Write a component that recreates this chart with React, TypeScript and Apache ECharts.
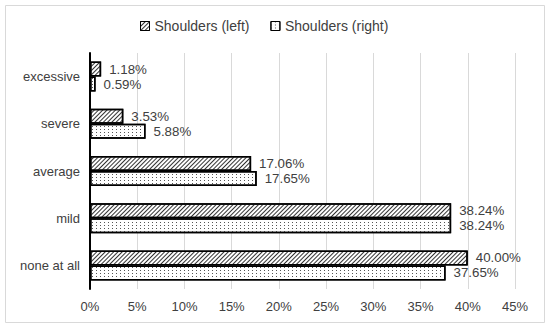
import React, { useEffect, useRef } from "react";
import * as echarts from "echarts";

const categories = ["none at all", "mild", "average", "severe", "excessive"];
const leftValues = [40.0, 38.24, 17.06, 3.53, 1.18];
const rightValues = [37.65, 38.24, 17.65, 5.88, 0.59];
const seriesNames = ["Shoulders (left)", "Shoulders (right)"];

const FONT = "Liberation Sans, Arial, sans-serif";
const TXT = "#404040";
const FS = 13;

const hatchDecal = {
  symbol: "rect",
  symbolSize: 1,
  dashArrayX: [1, 0],
  dashArrayY: [1, 1.2],
  rotation: -Math.PI / 4,
  color: "#333",
};
const dotDecal = {
  symbol: "rect",
  symbolSize: 1,
  dashArrayX: [1, 3],
  dashArrayY: [1, 2],
  rotation: 0,
  color: "#555",
};

export default function App() {
  const ref = useRef<HTMLDivElement>(null);
  useEffect(() => {
    if (!ref.current) return;
    const chart = echarts.init(ref.current, null, { renderer: "svg" });
    const label = {
      show: true,
      position: "right",
      distance: 8,
      color: TXT,
      fontSize: 13.3,
      fontFamily: FONT,
      formatter: (p: any) => Number(p.value).toFixed(2) + "%",
    };
    chart.setOption({
      animation: false,
      textStyle: { fontFamily: FONT },
      graphic: [
        {
          type: "rect",
          shape: { x: 5.5, y: 5.5, width: 539, height: 317 },
          style: { fill: "none", stroke: "#d9d9d9", lineWidth: 1 },
          silent: true,
        },
      ],
      legend: {
        data: seriesNames,
        icon: "rect",
        left: 135,
        top: 14,
        itemWidth: 9,
        itemHeight: 9,
        itemGap: 21,
        itemStyle: { borderWidth: 1 },
        textStyle: { color: TXT, fontSize: 14, fontFamily: FONT },
      },
      grid: { left: 90, right: 35, top: 53, bottom: 39 },
      xAxis: {
        type: "value",
        min: 0,
        max: 45,
        interval: 5,
        axisLine: { show: false },
        axisTick: { show: false },
        axisLabel: { formatter: "{value}%", color: TXT, fontSize: FS, fontFamily: FONT, margin: 11 },
        splitLine: { show: true, lineStyle: { color: "#d9d9d9", width: 1 } },
      },
      yAxis: {
        type: "category",
        data: categories,
        axisLine: { show: true, lineStyle: { color: "#000", width: 2 } },
        axisTick: { show: false },
        axisLabel: { color: TXT, fontSize: FS, fontFamily: FONT, margin: 10 },
      },
      series: [
        {
          name: seriesNames[0],
          type: "bar",
          data: leftValues,
          barWidth: 15,
          barGap: "0%",
          itemStyle: { color: "#fff", borderColor: "#000", borderWidth: 1.5, decal: hatchDecal },
          label,
        },
        {
          name: seriesNames[1],
          type: "bar",
          data: rightValues,
          barWidth: 15,
          barGap: "0%",
          itemStyle: { color: "#fff", borderColor: "#000", borderWidth: 1.5, decal: dotDecal },
          label,
        },
      ],
    });
    return () => chart.dispose();
  }, []);
  return (
    <div
      ref={ref}
      style={{ position: "fixed", left: 0, top: 0, width: 550, height: 328, background: "#fff" }}
    />
  );
}
